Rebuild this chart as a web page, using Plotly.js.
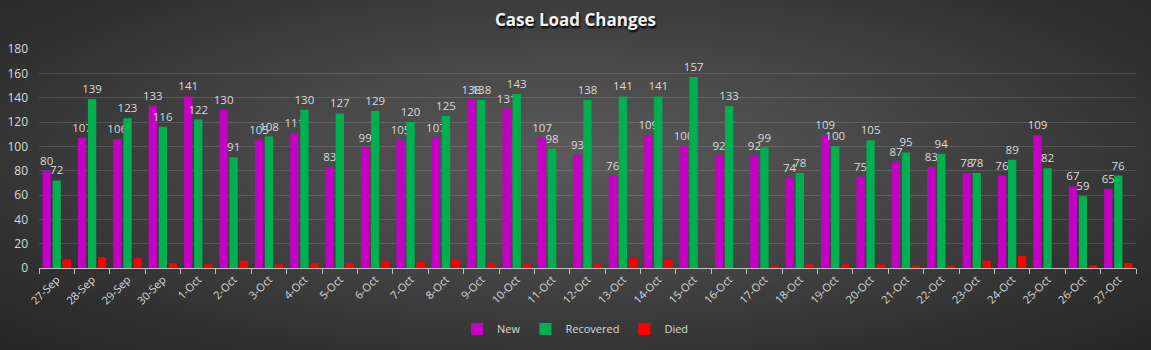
<!DOCTYPE html>
<html>
<head>
<meta charset="utf-8">
<script src="https://cdn.plot.ly/plotly-3.0.1.min.js"></script>
<style>
html,body{margin:0;padding:0;}
#chart{width:1151px;height:350px;background:radial-gradient(ellipse at 50% 45%, #5a5a5a 0%, #464646 40%, #2c2c2c 85%, #262626 100%);}
</style>
</head>
<body>
<div id="chart"></div>
<script>
const categories = ["27-Sep","28-Sep","29-Sep","30-Sep","1-Oct","2-Oct","3-Oct","4-Oct","5-Oct","6-Oct","7-Oct","8-Oct","9-Oct","10-Oct","11-Oct","12-Oct","13-Oct","14-Oct","15-Oct","16-Oct","17-Oct","18-Oct","19-Oct","20-Oct","21-Oct","22-Oct","23-Oct","24-Oct","25-Oct","26-Oct","27-Oct"];
const newCases = [80,107,106,133,141,130,105,111,83,99,105,107,138,131,107,93,76,109,100,92,92,74,109,75,87,83,78,76,109,67,65];
const recovered = [72,139,123,116,122,91,108,130,127,129,120,125,138,143,98,138,141,141,157,133,99,78,100,105,95,94,78,89,82,59,76];
const died = [7,9,8,4,3,6,3,4,4,6,5,7,4,3,0,3,8,7,0,0,2,3,3,3,2,2,6,10,0,2,4];
const yTicks = [0,20,40,60,80,100,120,140,160,180];

const FONT = "Open Sans, Liberation Sans, Arial, sans-serif";
const labelFont = {family:FONT, size:11.5, color:"#d9d9d9"};
const traces = [
  {type:"bar", name:"New", x:categories, y:newCases, marker:{color:"#c400c4"},
   text:newCases.map(String), textposition:"outside", textfont:labelFont, constraintext:"none", cliponaxis:false, hoverinfo:"x+y+name"},
  {type:"bar", name:"Recovered", x:categories, y:recovered, marker:{color:"#00b050"},
   text:recovered.map(String), textposition:"outside", textfont:labelFont, constraintext:"none", cliponaxis:false, hoverinfo:"x+y+name"},
  {type:"bar", name:"Died", x:categories, y:died, marker:{color:"#ff0000"}, hoverinfo:"x+y+name"}
];

const layout = {
  width:1151, height:350,
  paper_bgcolor:"rgba(0,0,0,0)", plot_bgcolor:"rgba(0,0,0,0)",
  margin:{l:39, r:15, t:49, b:82},
  barmode:"group", bargap:0.15, bargroupgap:0.17,
  title:{text:"Case Load Changes", x:0.5, xanchor:"center", y:0.943, yanchor:"middle", yref:"container",
         font:{family:FONT, size:17, color:"#f2f2f2", weight:"bold", shadow:"1px 2px 2px #000"}},
  xaxis:{type:"category", tickangle:-45, tickson:"boundaries", ticks:"outside", ticklen:5, tickcolor:"#bfbfbf",
         showline:true, linecolor:"#bfbfbf", linewidth:1, showgrid:false, automargin:false,
         tickfont:{family:FONT, size:11, color:"#d9d9d9"}},
  yaxis:{range:[0,180], tickvals:yTicks, showgrid:true, gridcolor:"rgba(255,255,255,0.13)", gridwidth:1,
         zeroline:false, showline:false, ticks:"", ticklabelstandoff:10, automargin:false,
         tickfont:{family:FONT, size:12, color:"#d9d9d9"}},
  legend:{orientation:"h", x:0.5, xanchor:"center", xref:"container", y:0.06, yanchor:"middle", yref:"container",
          font:{family:FONT, size:11, color:"#d9d9d9"}, itemwidth:30},
  showlegend:true
};
Plotly.newPlot("chart", traces, layout, {displayModeBar:false, staticPlot:true});
</script>
</body>
</html>
